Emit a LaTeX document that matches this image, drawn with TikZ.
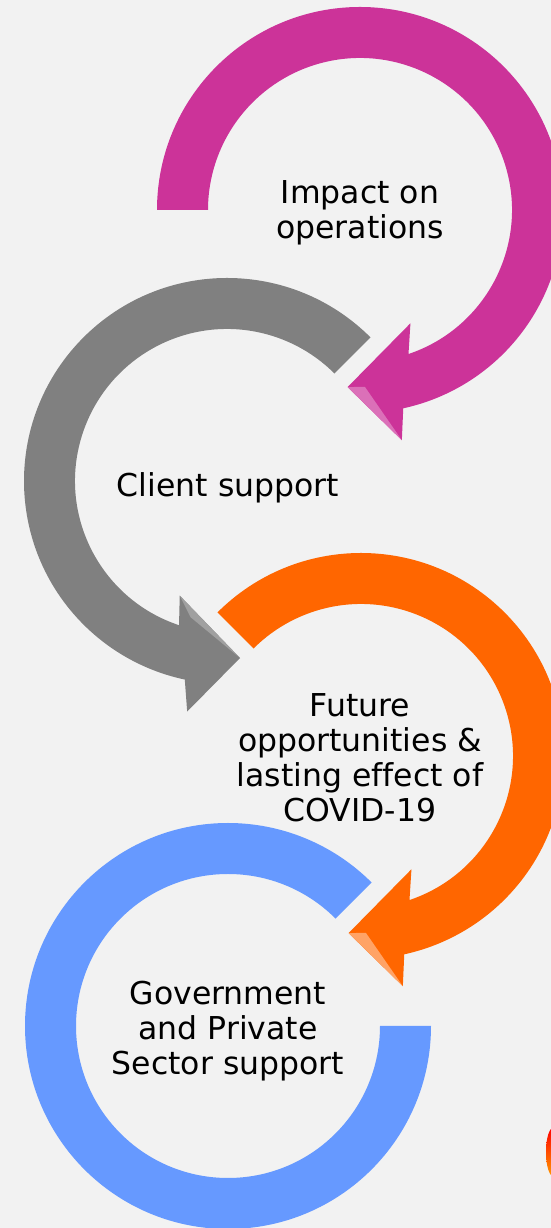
\documentclass[tikz,border=0pt]{standalone}
\usepackage{fontspec}
\setmainfont[Ligatures=NoCommon]{DejaVu Sans}
\begin{document}
\begin{tikzpicture}[x=1pt, y=1pt,
  steplabel/.style={align=center, font=\fontsize{31.5}{35}\selectfont, inner sep=0pt}]

\definecolor{bgcolor}{RGB}{242,242,242}
\definecolor{magentaband}{RGB}{204,51,153}
\definecolor{grayband}{RGB}{128,128,128}
\definecolor{orangeband}{RGB}{255,102,0}
\definecolor{blueband}{RGB}{102,153,255}

% Background
\fill[bgcolor] (0,0) rectangle (551,1228);
\clip (0,0) rectangle (551,1228);

% Magenta arrow
\begin{scope}[shift={(360,1018)}]
\fill[magentaband] (180:203) arc[start angle=180, end angle=-77.7, radius=203] -- (-79.7:234) -- (-94:177.5) -- (-66:124) -- (-71.4:152) arc[start angle=-71.4, end angle=180, radius=152] -- cycle;
\fill[magentaband!70!white] (-94:177.5) -- (-88.4:177) -- (-79.7:234) -- cycle;
\end{scope}

% Gray arrow
\begin{scope}[shift={(227,747)}]
\fill[grayband] (45:203) arc[start angle=45, end angle=258, radius=203] -- (260.2:234) -- (274.2:177.5) -- (247.6:124) -- (251.6:152) arc[start angle=251.6, end angle=45, radius=152] -- cycle;
\fill[grayband!75!white] (247.6:124) -- (274.2:177.5) -- (255:141) -- cycle;
\end{scope}

% Orange arrow
\begin{scope}[shift={(361,472)}]
\fill[orangeband] (135:203) arc[start angle=135, end angle=-77.7, radius=203] -- (-79.7:234) -- (-94:177.5) -- (-66:124) -- (-71.4:152) arc[start angle=-71.4, end angle=135, radius=152] -- cycle;
\fill[orangeband!60!white] (-94:177.5) -- (-88.4:177) -- (-79.7:234) -- cycle;
\end{scope}

% Blue ring
\begin{scope}[shift={(228,202)}]
\fill[blueband] (0:152) -- (0:203) arc[start angle=0, end angle=-315, radius=203] -- (45:152) arc[start angle=-315, end angle=0, radius=152] -- cycle;
\end{scope}

% Edge of a shape outside the frame
\shade[top color=red, bottom color=orange!80!yellow] (553,76) ellipse[x radius=7, y radius=24];

% Labels
\node[steplabel] (impact) at (360,1015) {Impact on\\operations};
\node[steplabel] (client) at (228,740) {Client support};
\node[steplabel] (future) at (360,470) {Future\\opportunities \&\\lasting effect of\\COVID-19};
\node[steplabel] (govt) at (228,197) {Government\\and Private\\Sector support};

\end{tikzpicture}
\end{document}
